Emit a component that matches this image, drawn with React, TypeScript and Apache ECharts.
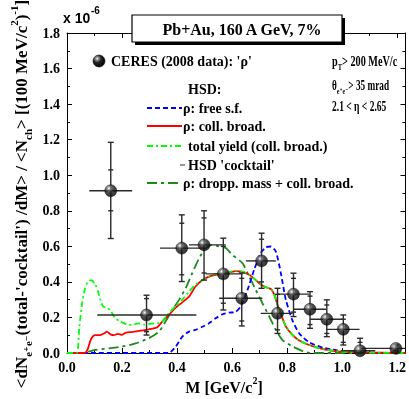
import React, { useEffect, useRef } from "react";
import * as echarts from "echarts";

// ---------- data ----------
const xTicks = [0, 0.2, 0.4, 0.6, 0.8, 1.0, 1.2];
const yTicks = [0, 0.2, 0.4, 0.6, 0.8, 1.0, 1.2, 1.4, 1.6, 1.8];

// CERES 2008 data points
const ceresM = [0.159, 0.289, 0.417, 0.498, 0.568, 0.635, 0.707, 0.765, 0.823, 0.883, 0.944, 1.004, 1.065, 1.195];
const ceresV = [0.913, 0.214, 0.59, 0.608, 0.445, 0.308, 0.518, 0.223, 0.331, 0.246, 0.19, 0.133, 0.013, 0.026];
const binLo = [0.081, 0.11, 0.338, 0.443, 0.504, 0.553, 0.65, 0.704, 0.765, 0.823, 0.883, 0.941, 0.995, 1.065];
const binHi = [0.237, 0.47, 0.497, 0.577, 0.638, 0.71, 0.759, 0.82, 0.88, 0.941, 1.0, 1.063, 1.12, 1.23];
const totLo = [0.644, 0.101, 0.402, 0.41, 0.242, 0.152, 0.364, 0.11, 0.205, 0.139, 0.092, 0.045, 0.0, 0.012];
const totHi = [1.185, 0.325, 0.777, 0.8, 0.646, 0.45, 0.674, 0.364, 0.449, 0.345, 0.299, 0.214, 0.083, 0.045];
const statLo = [0.8, 0.12, 0.44, 0.45, 0.28, 0.18, 0.4, 0.13, 0.23, 0.16, 0.11, 0.06, 0.0, 0.015];
const statHi = [1.03, 0.306, 0.73, 0.76, 0.6, 0.42, 0.64, 0.33, 0.42, 0.32, 0.27, 0.19, 0.06, 0.04];

// HSD: rho free spectral function (blue dashed)
const freeM = [0, 0.37, 0.395, 0.419, 0.443, 0.467, 0.492, 0.516, 0.54, 0.565, 0.589, 0.613, 0.631, 0.656, 0.68, 0.704, 0.723, 0.741, 0.759, 0.777, 0.795, 0.82, 0.844, 0.88, 0.93, 0.98, 1.04, 1.1, 1.23];
const freeV = [0, 0, 0.036, 0.092, 0.12, 0.13, 0.148, 0.167, 0.195, 0.218, 0.227, 0.231, 0.261, 0.355, 0.468, 0.562, 0.595, 0.599, 0.571, 0.45, 0.3, 0.18, 0.11, 0.06, 0.03, 0.015, 0.005, 0.001, 0];

// HSD: rho collisional broadening (red solid)
const broadM = [0, 0.065, 0.075, 0.085, 0.095, 0.103, 0.121, 0.135, 0.145, 0.158, 0.17, 0.185, 0.2, 0.215, 0.235, 0.261, 0.297, 0.328, 0.346, 0.37, 0.395, 0.419, 0.443, 0.467, 0.492, 0.516, 0.54, 0.565, 0.589, 0.613, 0.638, 0.662, 0.686, 0.704, 0.723, 0.741, 0.753, 0.765, 0.777, 0.795, 0.82, 0.844, 0.88, 0.93, 0.99, 1.05, 1.23];
const broadV = [0, 0, 0.02, 0.07, 0.095, 0.101, 0.101, 0.11, 0.12, 0.105, 0.1, 0.108, 0.102, 0.115, 0.118, 0.124, 0.133, 0.145, 0.177, 0.214, 0.255, 0.285, 0.317, 0.374, 0.411, 0.43, 0.44, 0.445, 0.452, 0.46, 0.456, 0.44, 0.41, 0.385, 0.37, 0.36, 0.33, 0.27, 0.22, 0.15, 0.1, 0.07, 0.045, 0.022, 0.008, 0.003, 0];

// HSD: total yield with collisional broadening (light green dash-dot)
const totalM = [0, 0.035, 0.045, 0.055, 0.065, 0.075, 0.088, 0.103, 0.112, 0.121, 0.132, 0.145, 0.158, 0.167, 0.176, 0.194, 0.21, 0.225, 0.245, 0.261, 0.28, 0.297, 0.316, 0.334, 0.346, 0.37, 0.395, 0.419, 0.443, 0.467, 0.492, 0.516, 0.54, 0.565, 0.589, 0.613, 0.638, 0.662, 0.686, 0.704, 0.723, 0.741, 0.753, 0.765, 0.777, 0.795, 0.82, 0.844, 0.88, 0.93, 0.99, 1.05, 1.23];
const totalV = [0, 0, 0.15, 0.28, 0.36, 0.4, 0.41, 0.385, 0.35, 0.3, 0.26, 0.255, 0.24, 0.215, 0.195, 0.177, 0.165, 0.158, 0.162, 0.167, 0.16, 0.163, 0.167, 0.17, 0.178, 0.223, 0.265, 0.3, 0.345, 0.385, 0.41, 0.43, 0.445, 0.445, 0.455, 0.462, 0.458, 0.44, 0.41, 0.385, 0.37, 0.36, 0.33, 0.27, 0.22, 0.15, 0.1, 0.07, 0.045, 0.022, 0.008, 0.003, 0];

// HSD: dropping mass + collisional broadening (dark green dash-dot)
const droppM = [0, 0.055, 0.079, 0.103, 0.152, 0.2, 0.249, 0.297, 0.334, 0.358, 0.383, 0.407, 0.431, 0.455, 0.48, 0.504, 0.528, 0.553, 0.577, 0.601, 0.638, 0.662, 0.686, 0.71, 0.735, 0.759, 0.783, 0.82, 0.868, 0.905, 1.23];
const droppV = [0, 0, 0.008, 0.017, 0.026, 0.036, 0.054, 0.083, 0.12, 0.177, 0.242, 0.299, 0.364, 0.449, 0.533, 0.59, 0.608, 0.599, 0.59, 0.552, 0.505, 0.43, 0.355, 0.28, 0.205, 0.13, 0.073, 0.036, 0.004, 0, 0];

// ---------- styling ----------
const SERIF = "'Liberation Serif', 'DejaVu Serif', serif";
const BLUE = "#0000ff";
const RED = "#ff0000";
const LIME = "#00ff00";
const DKGREEN = "#1a8c1a";

const zip = (a: number[], b: number[]) => a.map((x, i) => [x, b[i]]);

const sphere = () =>
  new echarts.graphic.RadialGradient(0.35, 0.3, 0.75, [
    { offset: 0, color: "#ffffff" },
    { offset: 0.15, color: "#999999" },
    { offset: 0.45, color: "#222222" },
    { offset: 1, color: "#000000" },
  ]);

const richBase = (size: number) => ({
  t: { fontSize: size, fontWeight: "bold", fontFamily: SERIF, lineHeight: size + 8, verticalAlign: "middle", fill: "#000" },
  s: { fontSize: Math.round(size * 0.65), fontWeight: "bold", fontFamily: SERIF, lineHeight: Math.round(size * 0.65), verticalAlign: "bottom", fill: "#000" },
  p: { fontSize: Math.round(size * 0.65), fontWeight: "bold", fontFamily: SERIF, lineHeight: Math.round(size * 0.65), verticalAlign: "top", fill: "#000" },
});

export default function App() {
  const ref = useRef<HTMLDivElement>(null);
  useEffect(() => {
    if (!ref.current) return;
    const chart = echarts.init(ref.current, undefined, { renderer: "svg" });

    const axisCommon = {
      type: "value" as const,
      interval: 0.2,
      axisLine: { show: true, onZero: false, lineStyle: { color: "#000", width: 1 } },
      axisTick: { show: true, inside: true, length: 5, lineStyle: { color: "#000" } },
      minorTick: { show: true, splitNumber: 2, length: 3, lineStyle: { color: "#000" } },
      splitLine: { show: false },
    };
    const lbl = (ticks: number[]) => ({
      color: "#000",
      fontFamily: SERIF,
      fontWeight: "bold" as const,
      fontSize: 14,
      margin: 7,
      formatter: (v: number) => (ticks.some((t) => Math.abs(t - v) < 1e-6) ? v.toFixed(1) : ""),
    });

    const errRows = ceresM.map((m, i) => [m, ceresV[i], binLo[i], binHi[i], totLo[i], totHi[i], statLo[i], statHi[i]]);

    const lineSeries = (name: string, data: number[][], color: string, dash: number[] | "solid", width = 1.8) => ({
      type: "line" as const,
      name,
      data,
      showSymbol: false,
      symbol: "none",
      smooth: 0.2,
      lineStyle: { color, width, type: dash },
      z: 3,
    });

    const legendLine = (y: number, color: string, dash: number[] | null, x1 = 147, x2 = 182) => ({
      type: "line",
      shape: { x1, y1: y, x2, y2: y },
      style: { stroke: color, lineWidth: 1.8, lineDash: dash || undefined },
      z: 10,
    });
    const legendText = (x: number, y: number, text: string, size = 14) => ({
      type: "text",
      x,
      y,
      style: { text, fontSize: size, fontWeight: "bold", fontFamily: SERIF, fill: "#000", align: "left", verticalAlign: "middle" },
      z: 10,
    });
    const richText = (x: number, y: number, text: string, size: number, align = "left", rotation = 0, scaleX = 1) => ({
      type: "text",
      x,
      y,
      rotation,
      scaleX,
      style: { text, rich: richBase(size), fontSize: size, fontWeight: "bold", fontFamily: SERIF, fill: "#000", align, verticalAlign: "middle" },
      z: 10,
    });

    chart.setOption({
      animation: false,
      grid: { left: 67, right: 3, top: 33, bottom: 46, containLabel: false },
      xAxis: [
        { ...axisCommon, min: 0, max: 1.23, position: "bottom", axisLabel: lbl(xTicks) },
        { ...axisCommon, min: 0, max: 1.23, position: "top", axisLabel: { show: false } },
      ],
      yAxis: [
        { ...axisCommon, min: 0, max: 1.8, position: "left", axisLabel: lbl(yTicks) },
        { ...axisCommon, min: 0, max: 1.8, position: "right", axisLabel: { show: false } },
      ],
      series: [
        lineSeries("dropp", zip(droppM, droppV), DKGREEN, [10, 4, 3, 4]),
        lineSeries("free", zip(freeM, freeV), BLUE, [5, 3]),
        lineSeries("broad", zip(broadM, broadV), RED, "solid"),
        lineSeries("total", zip(totalM, totalV), LIME, [6, 3, 2, 3]),
        {
          type: "custom",
          data: errRows,
          encode: { x: 0, y: 1 },
          z: 5,
          renderItem: (params: any, api: any) => {
            const m = api.value(0), v = api.value(1);
            const c = api.coord([m, v]);
            const xl = api.coord([api.value(2), v]);
            const xh = api.coord([api.value(3), v]);
            const yl = api.coord([m, api.value(4)]);
            const yh = api.coord([m, api.value(5)]);
            const sl = api.coord([m, api.value(6)]);
            const sh = api.coord([m, api.value(7)]);
            const st = { stroke: "#2a2a2a", lineWidth: 1.4 };
            const cap = (p: number[], w: number) => ({ type: "line", shape: { x1: p[0] - w, y1: p[1], x2: p[0] + w, y2: p[1] }, style: st });
            return {
              type: "group",
              children: [
                { type: "line", shape: { x1: xl[0], y1: c[1], x2: xh[0], y2: c[1] }, style: st },
                { type: "line", shape: { x1: c[0], y1: yl[1], x2: c[0], y2: yh[1] }, style: st },
                cap(yl, 3),
                cap(yh, 3),
                cap(sl, 2.5),
                cap(sh, 2.5),
              ],
            };
          },
        },
        {
          type: "scatter",
          data: zip(ceresM, ceresV),
          symbol: "circle",
          symbolSize: 12,
          itemStyle: { color: sphere(), borderColor: "#000", borderWidth: 0.5 },
          z: 6,
        },
      ],
      graphic: [
        // multiplier
        { type: "text", x: 63, y: 18, style: { text: "x 10", fontSize: 14, fontWeight: "bold", fontFamily: "'Liberation Sans', Arial, sans-serif", fill: "#000", verticalAlign: "middle" }, z: 10 },
        { type: "text", x: 91, y: 10, style: { text: "-6", fontSize: 10, fontWeight: "bold", fontFamily: "'Liberation Sans', Arial, sans-serif", fill: "#000", verticalAlign: "middle" }, z: 10 },
        // title box
        { type: "rect", shape: { x: 135, y: 18, width: 210, height: 27 }, style: { fill: "#000" }, z: 9 },
        { type: "rect", shape: { x: 132, y: 15, width: 210, height: 27 }, style: { fill: "#fff", stroke: "#000", lineWidth: 1.2 }, z: 10 },
        { type: "text", x: 242, y: 29, style: { text: "Pb+Au, 160 A GeV, 7%", fontSize: 16, fontWeight: "bold", fontFamily: SERIF, fill: "#000", align: "center", verticalAlign: "middle" }, z: 11 },
        // legend
        { type: "circle", shape: { cx: 99, cy: 61, r: 6 }, style: { fill: sphere(), stroke: "#000", lineWidth: 0.5 }, z: 10 },
        legendText(111, 61, "CERES (2008 data): 'ρ'"),
        legendText(188, 89, "HSD:"),
        legendLine(108, BLUE, [5, 3]),
        legendText(183, 108, "ρ: free s.f."),
        legendLine(126, RED, null),
        legendText(183, 126, "ρ: coll. broad."),
        legendLine(146, LIME, [6, 3, 2, 3]),
        legendText(188, 146, "total yield (coll. broad.)"),
        legendLine(165, "#888888", null, 180, 185),
        legendText(188, 165, "HSD 'cocktail'"),
        legendLine(183, DKGREEN, [10, 4, 3, 4], 147, 179),
        legendText(183, 183, "ρ: dropp. mass + coll. broad."),
        // cuts
        richText(332, 61, "{t|p}{s|T}{t|> 200 MeV/c}", 14, "left", 0, 0.73),
        richText(332, 85, "{t|θ}{s|e⁺e⁻}{t|> 35 mrad}", 14, "left", 0, 0.66),
        richText(332, 106, "{t|2.1 < η < 2.65}", 14, "left", 0, 0.68),
        // axis titles
        richText(224, 387, "{t|M [GeV/c}{p|2}{t|]}", 16, "center"),
        richText(21, 194, "{t|<dN}{s|e⁺e⁻}{t|(total-'cocktail') /dM> / <N}{s|ch}{t|> [(100 MeV/c}{p|2}{t|)}{p|-1}{t|]}", 17, "center", Math.PI / 2),
      ],
    });
    return () => chart.dispose();
  }, []);
  return <div ref={ref} style={{ position: "fixed", left: 0, top: 0, width: 409, height: 399 }} />;
}
